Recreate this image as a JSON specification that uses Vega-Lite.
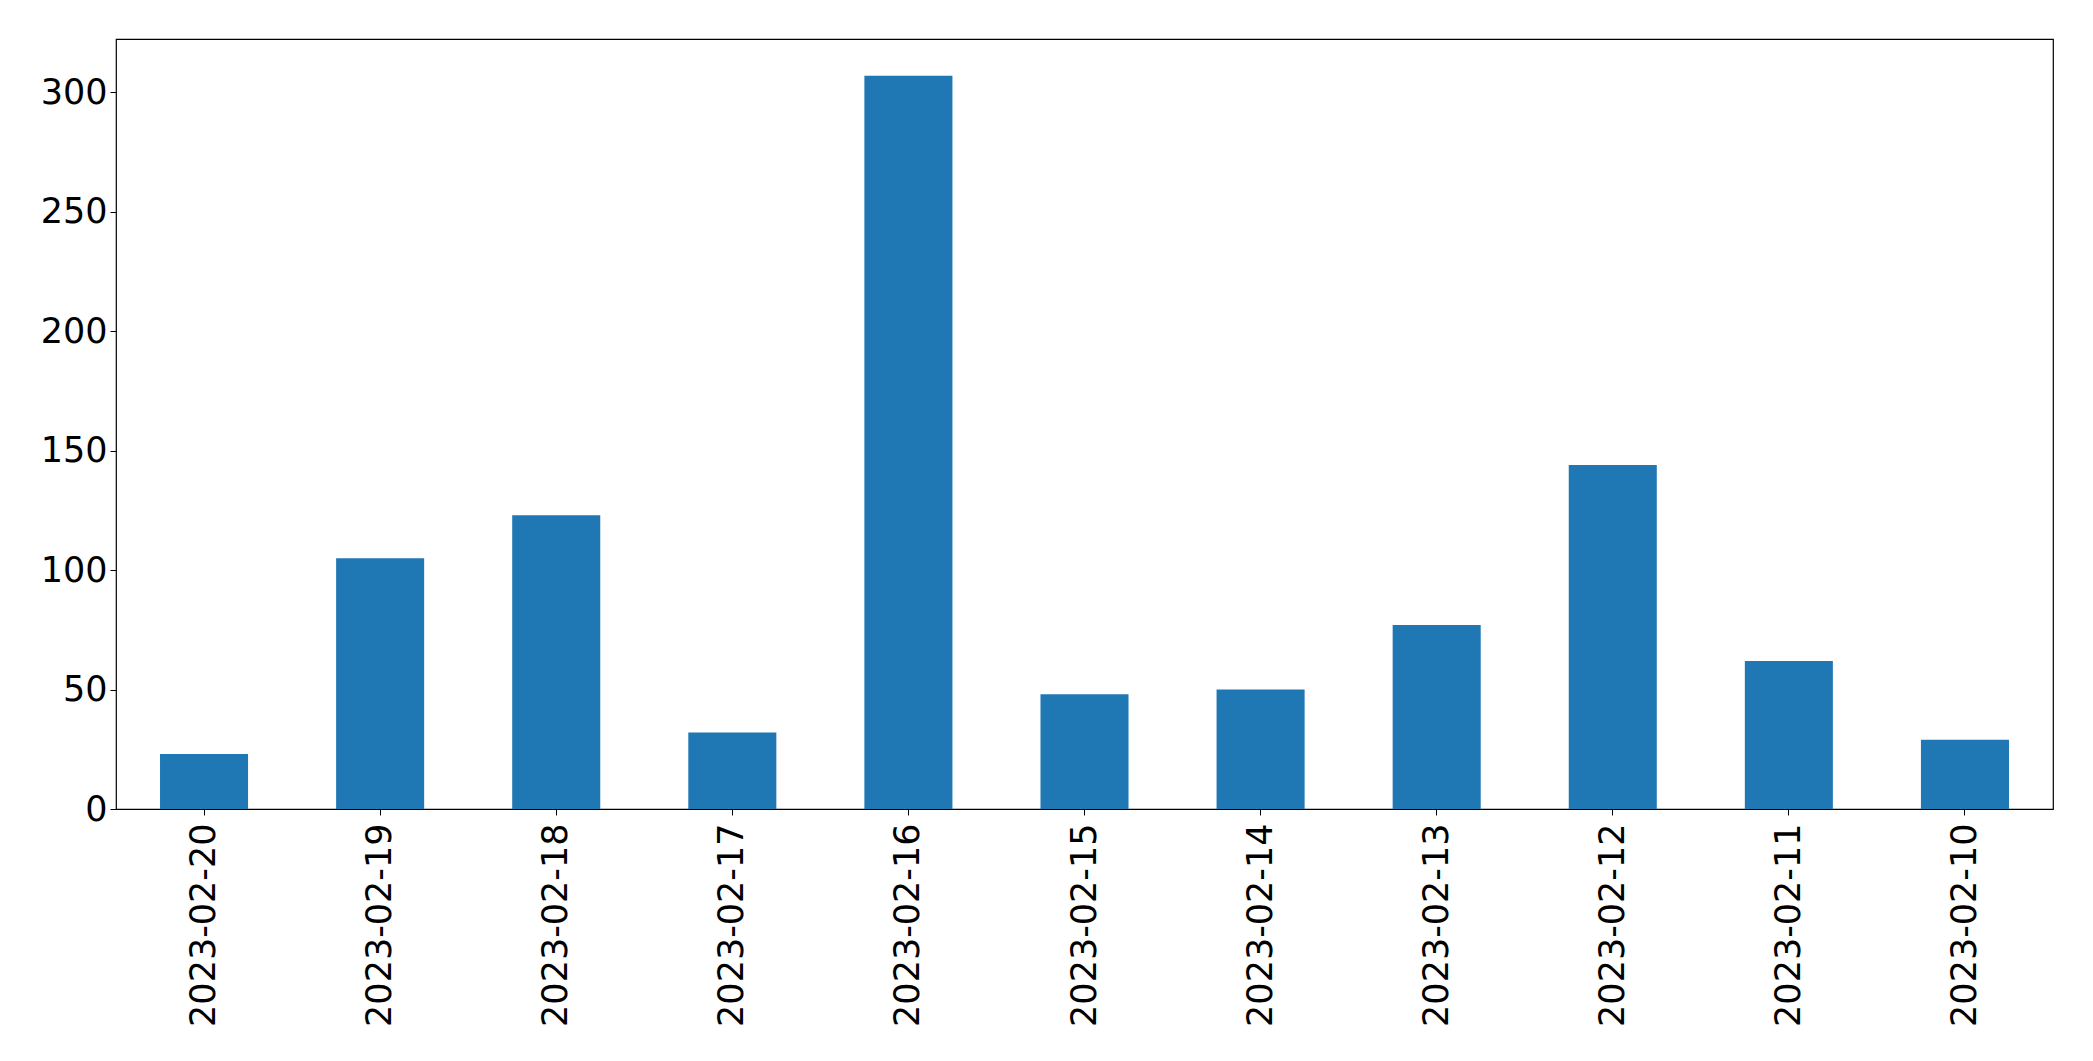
{
  "$schema": "https://vega.github.io/schema/vega-lite/v6.json",
  "width": 1937,
  "height": 770,
  "autosize": {"type": "none"},
  "padding": {"left": 116, "top": 39, "right": 40, "bottom": 252},
  "background": "white",
  "config": {
    "view": {"stroke": "black", "strokeWidth": 1.2},
    "font": "DejaVu Sans"
  },
  "data": {
    "values": [
      {"date": "2023-02-20", "count": 23},
      {"date": "2023-02-19", "count": 105},
      {"date": "2023-02-18", "count": 123},
      {"date": "2023-02-17", "count": 32},
      {"date": "2023-02-16", "count": 307},
      {"date": "2023-02-15", "count": 48},
      {"date": "2023-02-14", "count": 50},
      {"date": "2023-02-13", "count": 77},
      {"date": "2023-02-12", "count": 144},
      {"date": "2023-02-11", "count": 62},
      {"date": "2023-02-10", "count": 29}
    ]
  },
  "mark": {"type": "bar", "color": "#1f77b4"},
  "encoding": {
    "x": {
      "field": "date",
      "type": "nominal",
      "sort": null,
      "scale": {"paddingInner": 0.5, "paddingOuter": 0.25},
      "axis": {
        "title": null,
        "labelAngle": -90,
        "labelAlign": "right",
        "labelBaseline": "middle",
        "labelFontSize": 35,
        "labelLimit": 0,
        "labelColor": "black",
        "labelPadding": 8,
        "tickSize": 6,
        "tickColor": "black",
        "domain": false,
        "grid": false
      }
    },
    "y": {
      "field": "count",
      "type": "quantitative",
      "scale": {"domain": [0, 322.35], "nice": false, "zero": true},
      "axis": {
        "title": null,
        "values": [0, 50, 100, 150, 200, 250, 300],
        "labelFontSize": 35,
        "labelColor": "black",
        "labelPadding": 3,
        "tickSize": 6,
        "tickColor": "black",
        "domain": false,
        "grid": false
      }
    }
  }
}
